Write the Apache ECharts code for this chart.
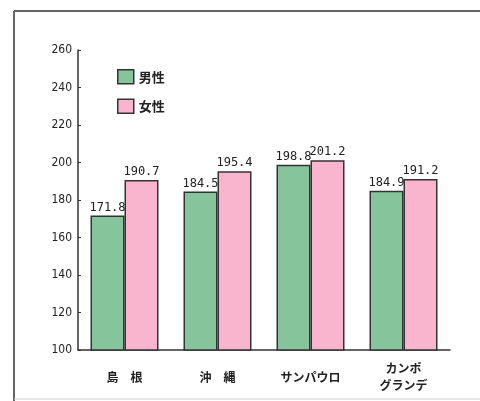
<!DOCTYPE html>
<html><head><meta charset="utf-8">
<script src="https://cdn.jsdelivr.net/npm/echarts@6/dist/echarts.min.js"></script>
<style>html,body{margin:0;padding:0;background:#fff}#c{width:480px;height:401px}</style>
</head><body><div id="c"></div>
<script>
const categories = ['島　根', '沖　縄', 'サンパウロ', 'カンポ\nグランデ'];
const maleValues = [171.8, 184.5, 198.8, 184.9];
const femaleValues = [190.7, 195.4, 201.2, 191.2];
const seriesNames = ['男性', '女性'];
const yMin = 100, yMax = 260, yStep = 20;

const chart = echarts.init(document.getElementById('c'));
const labelStyle = {show: true, position: 'top', distance: 2, color: '#222', fontSize: 12,
  fontFamily: 'DejaVu Sans Mono', formatter: p => p.value.toFixed(1)};
chart.setOption({
  animation: false,
  backgroundColor: '#fff',
  graphic: [
    {type: 'line', shape: {x1: 14, y1: 11, x2: 480, y2: 11}, style: {stroke: '#666', lineWidth: 2}},
    {type: 'line', shape: {x1: 14, y1: 11, x2: 14, y2: 401}, style: {stroke: '#666', lineWidth: 2}},
    {type: 'line', shape: {x1: 14, y1: 399, x2: 480, y2: 399}, style: {stroke: '#ccc', lineWidth: 1}}
  ],
  legend: {
    orient: 'vertical', left: 112, top: 64, itemWidth: 16, itemHeight: 14, itemGap: 14,
    icon: 'rect',
    itemStyle: {borderColor: '#333', borderWidth: 1.5},
    textStyle: {fontSize: 13, color: '#222', fontFamily: 'Noto Sans CJK JP', fontWeight: 'bold'},
    data: seriesNames
  },
  grid: {left: 78, right: 30, top: 50, bottom: 51},
  xAxis: {
    type: 'category', data: categories,
    axisLine: {lineStyle: {color: '#333', width: 1.5}},
    axisTick: {show: false},
    axisLabel: {color: '#222', fontSize: 12, fontWeight: 'bold', fontFamily: 'Noto Sans CJK JP',
      margin: 27, lineHeight: 17, verticalAlign: 'middle'}
  },
  yAxis: {
    type: 'value', min: yMin, max: yMax, interval: yStep,
    splitLine: {show: false},
    axisLine: {show: true, lineStyle: {color: '#333', width: 1.5}},
    axisTick: {show: true, inside: true, length: 3, lineStyle: {color: '#333'}},
    axisLabel: {color: '#222', fontSize: 12, fontFamily: 'DejaVu Sans Condensed', margin: 6}
  },
  series: [
    {name: seriesNames[0], type: 'bar', data: maleValues, barWidth: 34, barGap: '0%',
      itemStyle: {color: '#86c49c', borderColor: '#333', borderWidth: 1.5}, label: labelStyle},
    {name: seriesNames[1], type: 'bar', data: femaleValues, barWidth: 34,
      itemStyle: {color: '#f9b5cd', borderColor: '#333', borderWidth: 1.5}, label: labelStyle}
  ]
});
</script></body></html>
